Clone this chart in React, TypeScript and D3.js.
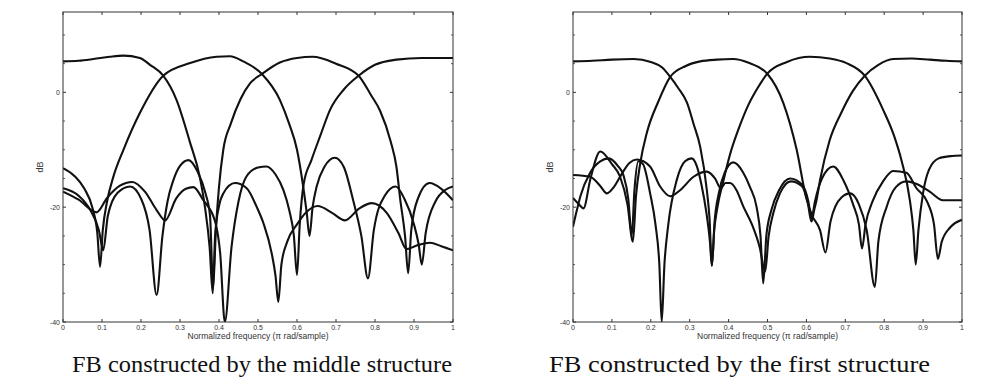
import React from "react";
import * as d3 from "d3";

// Frequency grid labels and magnitude ticks
const freqTicks = [0, 0.1, 0.2, 0.3, 0.4, 0.5, 0.6, 0.7, 0.8, 0.9, 1];
const freqTickLabels = ["0", "0.1", "0.2", "0.3", "0.4", "0.5", "0.6", "0.7", "0.8", "0.9", "1"];
const dbTicks = [0, -20, -40];
const dbTickLabels = ["0", "-20", "-40"];
const dbMinorTicks = [10, 5, -5, -10, -15, -25, -30, -35];
const dbDomain: [number, number] = [-40, 14];

const captions = ["FB constructed by the middle structure", "FB constructed by the first structure"];
const xAxisTitle = "Normalized frequency (\u03c0 rad/sample)";
const yAxisTitle = "dB";

// Magnitude responses [normalized frequency, dB] — filter bank built with the middle structure
const middleLowpass: [number, number][] = [
  [0, 5.4], [0.04, 5.5], [0.078, 5.8], [0.12, 6.2], [0.155, 6.4], [0.197, 6.0], [0.223, 4.8],
  [0.257, 2.9], [0.291, -1.3], [0.326, -8.8], [0.35, -14.5], [0.364, -20], [0.376, -27], [0.384, -35],
  [0.39, -25], [0.4, -19.8], [0.411, -17.6], [0.441, -15.8], [0.471, -16.7], [0.497, -20], [0.514, -22.8],
  [0.535, -28], [0.545, -32], [0.552, -36.5], [0.56, -30], [0.575, -26], [0.6, -23], [0.625, -20.8],
  [0.653, -19.8], [0.69, -21], [0.723, -22.3], [0.76, -20.2], [0.792, -19.3], [0.83, -21], [0.86, -24.5],
  [0.881, -27.3], [0.91, -26.6], [0.941, -26.2], [0.97, -26.8], [1, -27.5],
];
const middleBand1: [number, number][] = [
  [0, -13.2], [0.03, -14.6], [0.055, -16.8], [0.075, -20], [0.088, -24.5], [0.095, -30.4], [0.102, -24],
  [0.113, -19], [0.13, -14.5], [0.155, -10], [0.197, -3.6], [0.257, 2.9], [0.326, 5.1], [0.394, 6.2],
  [0.428, 6.3], [0.462, 5.4], [0.51, 3.2], [0.556, -1.3], [0.58, -5.5], [0.6, -10], [0.615, -16],
  [0.625, -21], [0.632, -25], [0.64, -20], [0.65, -16.5], [0.67, -13], [0.697, -11.4], [0.72, -13],
  [0.744, -18.8], [0.765, -25], [0.782, -32.4], [0.797, -24], [0.825, -18], [0.853, -16.4], [0.875, -18.5],
  [0.9, -23], [0.912, -26.5], [0.92, -30], [0.93, -24.5], [0.955, -19], [0.98, -17], [1, -16.4],
];
const middleBand2: [number, number][] = [
  [0, -16.7], [0.04, -18], [0.07, -20.5], [0.092, -24], [0.103, -27.5], [0.115, -21.5], [0.14, -17.5],
  [0.172, -16.4], [0.2, -18.5], [0.222, -24], [0.24, -35.3], [0.255, -25], [0.268, -19], [0.282, -15.5],
  [0.3, -12.8], [0.322, -11.8], [0.345, -13.8], [0.365, -17.5], [0.377, -21.5], [0.385, -34], [0.392, -24],
  [0.4, -16.5], [0.411, -10], [0.43, -5.5], [0.455, -1.2], [0.48, 1.6], [0.51, 3.2], [0.556, 5.2],
  [0.6, 6], [0.64, 6.2], [0.7, 5.0], [0.758, 2.9], [0.79, -0.5], [0.813, -3.2], [0.84, -8.5],
  [0.855, -13], [0.865, -18.8], [0.877, -25], [0.885, -31.5], [0.893, -24], [0.91, -18.5], [0.94, -15.8],
  [0.97, -16.8], [1, -18.8],
];
const middleHighpass: [number, number][] = [
  [0, -17.3], [0.04, -18.7], [0.086, -20.9], [0.113, -18.4], [0.145, -16.3], [0.178, -15.6], [0.21, -17.3],
  [0.24, -20.5], [0.262, -22.3], [0.29, -18.5], [0.315, -16.8], [0.334, -16.5], [0.36, -18.8], [0.39, -22.5],
  [0.403, -28], [0.415, -40], [0.432, -27], [0.45, -19], [0.47, -14.7], [0.5, -13.1], [0.522, -12.9],
  [0.545, -14.3], [0.565, -17], [0.58, -20.5], [0.592, -25], [0.6, -31.8], [0.607, -23], [0.617, -16],
  [0.637, -11.8], [0.66, -7.5], [0.685, -3], [0.72, 0.5], [0.758, 2.9], [0.8, 4.8], [0.855, 5.7],
  [0.92, 6], [1, 6],
];

// Magnitude responses [normalized frequency, dB] — filter bank built with the first structure
const firstLowpass: [number, number][] = [
  [0, 5.4], [0.05, 5.5], [0.1, 5.7], [0.156, 5.8], [0.2, 5.3], [0.23, 4.3], [0.25, 2.7], [0.27, 0.8],
  [0.293, -1.8], [0.31, -5.5], [0.327, -9.5], [0.344, -17], [0.351, -22], [0.357, -30.2], [0.364, -22.5],
  [0.375, -17.5], [0.39, -14], [0.412, -12.2], [0.437, -13.9], [0.455, -16.5], [0.472, -20], [0.482, -25],
  [0.489, -33.3], [0.497, -25], [0.51, -20.5], [0.53, -17], [0.558, -15], [0.588, -16], [0.605, -19],
  [0.613, -22], [0.622, -19], [0.64, -15], [0.669, -12.9], [0.695, -15.3], [0.72, -19.5], [0.735, -23],
  [0.743, -27.2], [0.752, -23], [0.77, -19], [0.797, -15.5], [0.823, -13.7], [0.857, -14], [0.883, -16.7],
  [0.91, -19], [0.928, -23], [0.938, -29], [0.948, -26], [0.97, -23.5], [1, -22.2],
];
const firstBand1: [number, number][] = [
  [0, -18.4], [0.015, -19.5], [0.027, -20.2], [0.045, -15], [0.07, -10.3], [0.1, -12.5], [0.121, -14.7],
  [0.14, -19.5], [0.154, -26], [0.162, -18], [0.173, -12.3], [0.19, -7], [0.22, -1.5], [0.25, 2.7],
  [0.29, 4.6], [0.327, 5.4], [0.37, 5.7], [0.412, 5.8], [0.45, 5.2], [0.5, 3.2], [0.541, -1.9],
  [0.575, -10], [0.6, -18.5], [0.615, -21.5], [0.635, -24], [0.649, -27.9], [0.662, -22.5], [0.69, -18.3],
  [0.713, -17.6], [0.735, -19.5], [0.755, -24], [0.776, -33.9], [0.785, -26], [0.806, -20], [0.83, -16.5],
  [0.857, -15.5], [0.885, -16], [0.917, -17.3], [0.951, -18.8], [1, -18.8],
];
const firstBand2: [number, number][] = [
  [0, -23.4], [0.01, -20.5], [0.019, -18.1], [0.044, -14], [0.07, -12], [0.092, -11.5], [0.115, -12.8],
  [0.13, -14.5], [0.142, -18.5], [0.151, -25], [0.158, -17], [0.168, -12], [0.18, -12.5], [0.198, -17.5],
  [0.212, -23], [0.222, -30], [0.228, -40], [0.235, -30], [0.245, -23], [0.267, -15.2], [0.288, -12],
  [0.305, -11.5], [0.318, -12.8], [0.33, -16], [0.343, -21], [0.352, -26], [0.357, -30.2], [0.363, -24],
  [0.37, -20.5], [0.387, -15.3], [0.405, -10.5], [0.425, -6.5], [0.45, -2.3], [0.475, 0.8], [0.5, 3.3],
  [0.55, 5.3], [0.609, 6.2], [0.66, 5.9], [0.703, 5.1], [0.75, 2.9], [0.797, -3], [0.825, -7.5],
  [0.845, -12], [0.866, -18.8], [0.875, -24], [0.881, -30], [0.888, -24], [0.9, -17.5], [0.915, -13.5],
  [0.94, -11.5], [0.97, -11.1], [1, -11],
];
const firstHighpass: [number, number][] = [
  [0, -14.4], [0.044, -14.7], [0.07, -16.3], [0.087, -17.6], [0.105, -16.5], [0.121, -14.7], [0.145, -12.3],
  [0.164, -11.7], [0.198, -12.9], [0.224, -16.4], [0.25, -18.1], [0.276, -17], [0.31, -14.7], [0.344, -13.8],
  [0.365, -15], [0.38, -16.7], [0.392, -15.8], [0.404, -15.8], [0.42, -17], [0.438, -19.9], [0.46, -23],
  [0.48, -27], [0.494, -31.2], [0.503, -25], [0.515, -21], [0.532, -17.6], [0.56, -15.5], [0.588, -16.3],
  [0.603, -19], [0.613, -22.5], [0.62, -20.5], [0.626, -18.8], [0.635, -15.3], [0.66, -8.3], [0.69, -3.5],
  [0.72, 0.3], [0.75, 2.9], [0.785, 4.8], [0.823, 5.8], [0.87, 5.9], [0.917, 5.7], [0.96, 5.5], [1, 5.4],
];

const middleSeries = [middleLowpass, middleBand1, middleBand2, middleHighpass];
const firstSeries = [firstLowpass, firstBand1, firstBand2, firstHighpass];

// Layout
const W = 982;
const H = 387;
const TOP = 12;
const BOTTOM = 322;
const panels = [
  { id: "mid", left: 63, right: 453, series: middleSeries, caption: captions[0], capX: 72, capW: 380 },
  { id: "fst", left: 573, right: 962, series: firstSeries, caption: captions[1], capX: 549, capW: 381 },
];

const INK = "#111";
const AXIS = "#333";
const LABEL = "#333";

function Panel({ p }: { p: (typeof panels)[number] }) {
  const x = d3.scaleLinear().domain([0, 1]).range([p.left, p.right]);
  const y = d3.scaleLinear().domain(dbDomain).range([BOTTOM, TOP]);
  const line = d3
    .line<[number, number]>()
    .x((d) => x(d[0]))
    .y((d) => y(d[1]))
    .curve(d3.curveMonotoneX);
  const clipId = `clip-${p.id}`;
  const cx = (p.left + p.right) / 2;
  const cy = (TOP + BOTTOM) / 2;
  return (
    <g>
      <defs>
        <clipPath id={clipId}>
          <rect x={p.left} y={TOP} width={p.right - p.left} height={BOTTOM - TOP} />
        </clipPath>
      </defs>
      <g clipPath={`url(#${clipId})`}>
        {p.series.map((s, i) => (
          <path key={i} d={line(s) || ""} fill="none" stroke={INK} strokeWidth={2.1} strokeLinejoin="round" />
        ))}
      </g>
      <rect x={p.left} y={TOP} width={p.right - p.left} height={BOTTOM - TOP} fill="none" stroke={AXIS} strokeWidth={1} />
      {freqTicks.map((t, i) => (
        <g key={`xt${i}`}>
          <line x1={x(t)} x2={x(t)} y1={BOTTOM} y2={BOTTOM - 3} stroke={AXIS} strokeWidth={1} />
          <line x1={x(t)} x2={x(t)} y1={TOP} y2={TOP + 3} stroke={AXIS} strokeWidth={1} />
          <text x={x(t)} y={330} fontSize={7} fill={LABEL} textAnchor="middle" fontFamily="Liberation Sans, Arial, sans-serif">
            {freqTickLabels[i]}
          </text>
        </g>
      ))}
      {dbTicks.map((t, i) => (
        <g key={`yt${i}`}>
          <line x1={p.left} x2={p.left + 3} y1={y(t)} y2={y(t)} stroke={AXIS} strokeWidth={1} />
          <line x1={p.right} x2={p.right - 3} y1={y(t)} y2={y(t)} stroke={AXIS} strokeWidth={1} />
          <text x={p.left - 3} y={y(t) + 2.5} fontSize={7} fill={LABEL} textAnchor="end" fontFamily="Liberation Sans, Arial, sans-serif">
            {dbTickLabels[i]}
          </text>
        </g>
      ))}
      {dbMinorTicks.map((t, i) => (
        <g key={`ym${i}`}>
          <line x1={p.left} x2={p.left + 2} y1={y(t)} y2={y(t)} stroke={AXIS} strokeWidth={0.8} />
          <line x1={p.right} x2={p.right - 2} y1={y(t)} y2={y(t)} stroke={AXIS} strokeWidth={0.8} />
        </g>
      ))}
      <text x={cx} y={339} fontSize={8.5} fill={LABEL} textAnchor="middle" fontFamily="Liberation Sans, Arial, sans-serif">
        {xAxisTitle}
      </text>
      <text
        transform={`translate(${p.left - 20},${cy}) rotate(-90)`}
        fontSize={9}
        fill={LABEL}
        textAnchor="middle"
        fontFamily="Liberation Sans, Arial, sans-serif"
      >
        {yAxisTitle}
      </text>
      <text
        x={p.capX}
        y={372}
        fontSize={23}
        fill="#111"
        fontFamily="Liberation Serif, Times New Roman, serif"
        textLength={p.capW}
        lengthAdjust="spacingAndGlyphs"
      >
        {p.caption}
      </text>
    </g>
  );
}

export default function App() {
  return (
    <svg width={W} height={H} viewBox={`0 0 ${W} ${H}`} style={{ display: "block", position: "absolute", left: 0, top: 0, background: "#fff" }}>
      <rect x={0} y={0} width={W} height={H} fill="#fff" />
      {panels.map((p) => (
        <Panel key={p.id} p={p} />
      ))}
    </svg>
  );
}
